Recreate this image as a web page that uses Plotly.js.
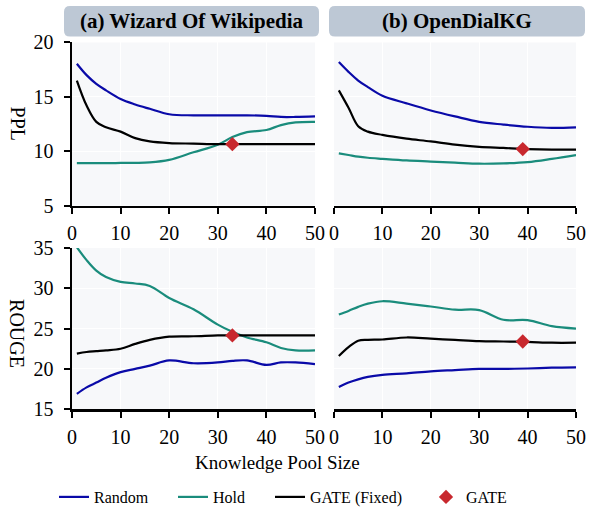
<!DOCTYPE html>
<html>
<head>
<meta charset="utf-8">
<script src="https://cdn.plot.ly/plotly-3.0.1.min.js"></script>
<style>html,body{margin:0;padding:0;background:#fff;}#chart{width:589px;height:514px;}</style>
</head>
<body>
<div id="chart"></div>
<script>
// ---- Data: (a) Wizard Of Wikipedia ----
const wowX = [1,3,5,7,10,13,16,20,25,30,33,36,40,43,46,50];
const wowPplRandom = [18.05,17.0,16.2,15.6,14.8,14.3,13.9,13.4,13.3,13.3,13.3,13.3,13.25,13.15,13.15,13.2];
const wowPplHold   = [8.9,8.9,8.9,8.9,8.92,8.93,8.97,9.2,9.9,10.6,11.3,11.75,11.95,12.4,12.65,12.7];
const wowPplFixed  = [16.5,14.2,12.7,12.2,11.8,11.2,10.9,10.75,10.7,10.65,10.65,10.65,10.65,10.65,10.65,10.65];
const wowRougeRandom = [16.9,17.7,18.3,18.9,19.6,20.0,20.4,21.05,20.7,20.8,21.0,21.05,20.5,20.8,20.8,20.6];
const wowRougeHold   = [35.1,33.5,32.2,31.4,30.8,30.6,30.3,28.8,27.4,25.5,24.6,23.9,23.3,22.6,22.3,22.3];
const wowRougeFixed  = [21.9,22.1,22.2,22.3,22.5,23.1,23.6,24.0,24.05,24.15,24.15,24.15,24.15,24.15,24.15,24.15];
const wowGateX = [33];
const wowGatePpl = [10.65];
const wowGateRouge = [24.15];

// ---- Data: (b) OpenDialKG ----
const odkgX = [1,3,5,7,10,15,20,25,30,35,40,45,50];
const odkgPplRandom = [18.2,17.3,16.5,15.9,15.1,14.4,13.75,13.2,12.7,12.45,12.25,12.15,12.2];
const odkgPplHold   = [9.8,9.65,9.5,9.4,9.3,9.15,9.05,8.95,8.85,8.88,9.0,9.3,9.65];
const odkgPplFixed  = [15.6,14.0,12.3,11.8,11.5,11.15,10.9,10.6,10.4,10.3,10.2,10.15,10.15];
const odkgRougeRandom = [17.75,18.3,18.7,19.0,19.25,19.45,19.7,19.85,20.0,20.0,20.05,20.15,20.2];
const odkgRougeHold   = [26.75,27.2,27.7,28.1,28.4,28.1,27.75,27.35,27.3,26.1,26.05,25.3,25.0];
const odkgRougeFixed  = [21.6,22.7,23.5,23.6,23.65,23.9,23.75,23.6,23.45,23.4,23.35,23.25,23.25];
const odkgGateX = [39];
const odkgGatePpl = [10.2];
const odkgGateRouge = [23.4];

const panelTitles = ['(a) Wizard Of Wikipedia', '(b) OpenDialKG'];
const seriesNames = ['Random', 'Hold', 'GATE (Fixed)', 'GATE'];
const xTicks = [0,10,20,30,40,50];

// ---- Styling ----
const FONT = 'Liberation Serif';
const colors = {Random:'#0a0aa8', Hold:'#1a8c7c', Fixed:'#000000', Gate:'#c8282e'};
const W = 589, H = 514;
const px = v => v / W;
const py = v => 1 - v / H;

function line(x, y, name, color, xa, ya, legend, show) {
  return {x, y, type:'scatter', mode:'lines', name, xaxis:xa, yaxis:ya,
    line:{color, width:2.2, shape:'spline', smoothing:1},
    showlegend:show, legend, hoverinfo:'skip'};
}
function gate(x, y, xa, ya, show) {
  return {x, y, type:'scatter', mode:'markers', name:seriesNames[3], xaxis:xa, yaxis:ya,
    marker:{symbol:'diamond', size:11, color:colors.Gate}, showlegend:show, legend:'legend4', hoverinfo:'skip'};
}

const traces = [
  line(wowX, wowPplRandom, seriesNames[0], colors.Random, 'x', 'y', 'legend', true),
  line(wowX, wowPplHold, seriesNames[1], colors.Hold, 'x', 'y', 'legend2', true),
  line(wowX, wowPplFixed, seriesNames[2], colors.Fixed, 'x', 'y', 'legend3', true),
  gate(wowGateX, wowGatePpl, 'x', 'y', true),
  line(odkgX, odkgPplRandom, seriesNames[0], colors.Random, 'x2', 'y2', 'legend', false),
  line(odkgX, odkgPplHold, seriesNames[1], colors.Hold, 'x2', 'y2', 'legend2', false),
  line(odkgX, odkgPplFixed, seriesNames[2], colors.Fixed, 'x2', 'y2', 'legend3', false),
  gate(odkgGateX, odkgGatePpl, 'x2', 'y2', false),
  line(wowX, wowRougeRandom, seriesNames[0], colors.Random, 'x3', 'y3', 'legend', false),
  line(wowX, wowRougeHold, seriesNames[1], colors.Hold, 'x3', 'y3', 'legend2', false),
  line(wowX, wowRougeFixed, seriesNames[2], colors.Fixed, 'x3', 'y3', 'legend3', false),
  gate(wowGateX, wowGateRouge, 'x3', 'y3', false),
  line(odkgX, odkgRougeRandom, seriesNames[0], colors.Random, 'x4', 'y4', 'legend', false),
  line(odkgX, odkgRougeHold, seriesNames[1], colors.Hold, 'x4', 'y4', 'legend2', false),
  line(odkgX, odkgRougeFixed, seriesNames[2], colors.Fixed, 'x4', 'y4', 'legend3', false),
  gate(odkgGateX, odkgGateRouge, 'x4', 'y4', false),
];

const tickFont = {family:FONT, size:20, color:'#000'};
function xAxis(domain, anchor) {
  return {domain, anchor, range:[0,50], tickvals:xTicks, ticks:'outside', ticklen:6, tickwidth:2,
    tickcolor:'#000', showline:true, linecolor:'#000', linewidth:2.5, showgrid:true, gridcolor:'#ffffff',
    gridwidth:1.2, zeroline:false, tickfont:tickFont, ticklabelstandoff:2, fixedrange:true};
}
function yAxis(domain, anchor, range, dtick, left) {
  return {domain, anchor, range, dtick, tick0:range[0], ticks: left ? 'outside' : '', ticklen:6, tickwidth:2,
    tickcolor:'#000', showline:left, linecolor:'#000', linewidth:2.5, showgrid:true, gridcolor:'#ffffff',
    gridwidth:1.2, zeroline:false, showticklabels:left, tickfont:tickFont, ticklabelstandoff:6, fixedrange:true};
}

const dxL = [px(72), px(315)], dxR = [px(334), px(576)];
const dyT = [py(208), py(43)], dyB = [py(414), py(251)];

function roundRect(x0, y0, x1, y1, r) {
  const X = v => px(v), Y = v => py(v);
  return `M ${X(x0+r)} ${Y(y0)} L ${X(x1-r)} ${Y(y0)} Q ${X(x1)} ${Y(y0)} ${X(x1)} ${Y(y0+r)} ` +
    `L ${X(x1)} ${Y(y1-r)} Q ${X(x1)} ${Y(y1)} ${X(x1-r)} ${Y(y1)} L ${X(x0+r)} ${Y(y1)} ` +
    `Q ${X(x0)} ${Y(y1)} ${X(x0)} ${Y(y1-r)} L ${X(x0)} ${Y(y0+r)} Q ${X(x0)} ${Y(y0)} ${X(x0+r)} ${Y(y0)} Z`;
}

const legendBase = {orientation:'h', yanchor:'middle', y:py(503), xanchor:'left',
  font:{family:FONT, size:16, color:'#000'}, bgcolor:'rgba(0,0,0,0)', borderwidth:0, itemwidth:30};

const layout = {
  width:W, height:H, margin:{l:0, r:0, t:0, b:0},
  paper_bgcolor:'#ffffff', plot_bgcolor:'#f7f8fa',
  font:{family:FONT, color:'#000'},
  xaxis: xAxis(dxL, 'y'), yaxis: yAxis(dyT, 'x', [5,20], 5, true),
  xaxis2: xAxis(dxR, 'y2'), yaxis2: yAxis(dyT, 'x2', [5,20], 5, false),
  xaxis3: xAxis(dxL, 'y3'), yaxis3: yAxis(dyB, 'x3', [15,35], 5, true),
  xaxis4: xAxis(dxR, 'y4'), yaxis4: yAxis(dyB, 'x4', [15,35], 5, false),
  legend:  Object.assign({}, legendBase, {x:px(54)}),
  legend2: Object.assign({}, legendBase, {x:px(173)}),
  legend3: Object.assign({}, legendBase, {x:px(270)}),
  legend4: Object.assign({}, legendBase, {x:px(426)}),
  shapes: [
    {type:'path', xref:'paper', yref:'paper', path:roundRect(64, 6, 319, 37, 6), fillcolor:'#bdc8d5', line:{width:0}, layer:'below'},
    {type:'path', xref:'paper', yref:'paper', path:roundRect(329, 6, 585, 37, 6), fillcolor:'#bdc8d5', line:{width:0}, layer:'below'},
  ],
  annotations: [
    {xref:'paper', yref:'paper', x:px(191.5), y:py(21.5), text:'<b>'+panelTitles[0]+'</b>', showarrow:false,
      font:{family:FONT, size:21, color:'#000'}, xanchor:'center', yanchor:'middle'},
    {xref:'paper', yref:'paper', x:px(457), y:py(21.5), text:'<b>'+panelTitles[1]+'</b>', showarrow:false,
      font:{family:FONT, size:21, color:'#000'}, xanchor:'center', yanchor:'middle'},
    {xref:'paper', yref:'paper', x:px(18), y:py(125), text:'PPL', textangle:90, showarrow:false,
      font:{family:FONT, size:20, color:'#000'}, xanchor:'center', yanchor:'middle'},
    {xref:'paper', yref:'paper', x:px(17), y:py(337), text:'ROUGE', textangle:90, showarrow:false,
      font:{family:FONT, size:20, color:'#000'}, xanchor:'center', yanchor:'middle'},
    {xref:'paper', yref:'paper', x:px(277), y:py(468), text:'Knowledge Pool Size', showarrow:false,
      font:{family:FONT, size:19, color:'#000'}, xanchor:'center', yanchor:'middle'},
  ],
};

Plotly.newPlot('chart', traces, layout, {displayModeBar:false, staticPlot:true});
</script>
</body>
</html>
